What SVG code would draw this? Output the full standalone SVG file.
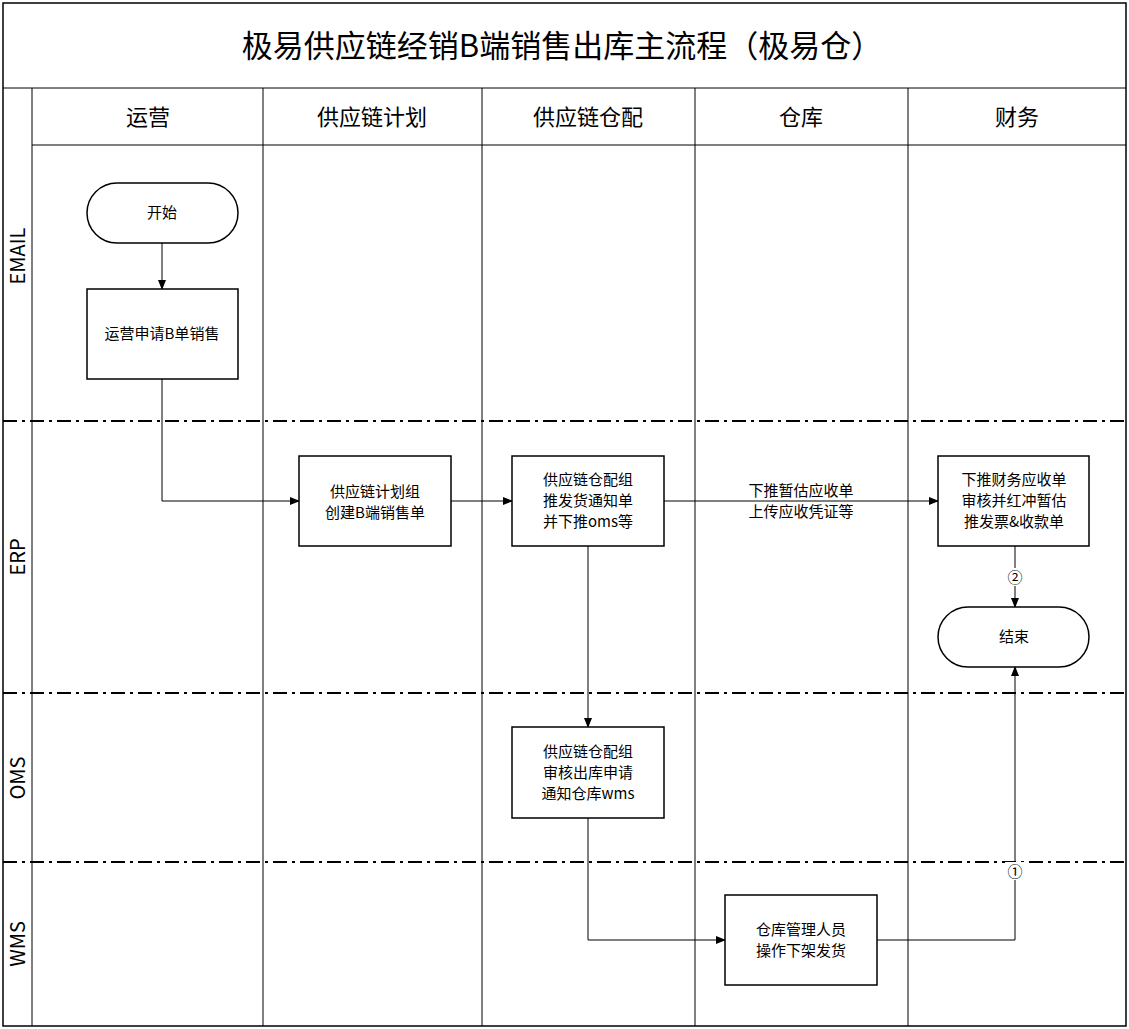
<svg xmlns="http://www.w3.org/2000/svg" width="1129" height="1029" viewBox="0 0 1129 1029">
<defs>
<style>
text{font-family:"Noto Sans CJK SC","Liberation Sans",sans-serif;fill:#000}
.n{fill:#fff;stroke:#000;stroke-width:1.5}
.t{font-size:15px;text-anchor:middle}
.h{font-size:22px;text-anchor:middle}
.l{font-size:20px;text-anchor:middle}
.c{fill:none;stroke:#000;stroke-width:1;marker-end:url(#a)}
.g{stroke:#000;stroke-width:1}
.d{stroke:#000;stroke-width:2;stroke-dasharray:14,5,3,5}
</style>
<marker id="a" markerWidth="10" markerHeight="10" refX="9" refY="5" orient="auto" markerUnits="userSpaceOnUse"><path d="M0,1 L10,5 L0,9 z" fill="#000"/></marker>
</defs>
<rect width="1129" height="1029" fill="#fff"/>
<g id="frame">
<rect x="3" y="3" width="1123" height="1023" fill="none" stroke="#000" stroke-width="1.5"/>
<line class="g" x1="3" y1="88" x2="1126" y2="88"/>
<line class="g" x1="32" y1="145" x2="1126" y2="145"/>
<line class="g" x1="32" y1="88" x2="32" y2="1026"/>
<line class="g" x1="263" y1="88" x2="263" y2="1026"/>
<line class="g" x1="482" y1="88" x2="482" y2="1026"/>
<line class="g" x1="695" y1="88" x2="695" y2="1026"/>
<line class="g" x1="908" y1="88" x2="908" y2="1026"/>
<line class="d" x1="3" y1="421" x2="1126" y2="421"/>
<line class="d" x1="3" y1="693" x2="1126" y2="693"/>
<line class="d" x1="3" y1="862" x2="1126" y2="862"/>
<text x="562" y="57" font-size="31" text-anchor="middle">极易供应链经销B端销售出库主流程（极易仓）</text>
<text class="h" x="148" y="125">运营</text>
<text class="h" x="372" y="125">供应链计划</text>
<text class="h" x="588" y="125">供应链仓配</text>
<text class="h" x="801" y="125">仓库</text>
<text class="h" x="1017" y="125">财务</text>
<text class="l" transform="translate(25,256) rotate(-90)">EMAIL</text>
<text class="l" transform="translate(25,557) rotate(-90)">ERP</text>
<text class="l" transform="translate(25,778) rotate(-90)">OMS</text>
<text class="l" transform="translate(25,944) rotate(-90)">WMS</text>
</g>
<g id="connectors">
<path class="c" d="M162,243 V289"/>
<path class="c" d="M162,379 V501 H299"/>
<path class="c" d="M451,501 H512"/>
<path class="c" d="M664,501 H938"/>
<path class="c" d="M588,546 V727"/>
<path class="c" d="M588,818 V940 H725"/>
<path class="c" d="M877,940 H1015 V667"/>
<path class="c" d="M1015,546 V607"/>
<text class="t" x="801" y="496">下推暂估应收单</text>
<text class="t" x="801" y="517">上传应收凭证等</text>
<rect x="1005" y="862" width="20" height="18" fill="#fff"/>
<text class="t" x="1015" y="877">①</text>
<rect x="1005" y="568" width="20" height="18" fill="#fff"/>
<text class="t" x="1015" y="583">②</text>
</g>
<g id="start"><rect class="n" x="87" y="183" width="151" height="60" rx="30"/><text class="t" x="162" y="218">开始</text></g>
<g id="apply"><rect class="n" x="87" y="289" width="151" height="90"/><text class="t" x="162" y="339">运营申请B单销售</text></g>
<g id="plan"><rect class="n" x="299" y="456" width="152" height="90"/><text class="t" x="375" y="497">供应链计划组</text><text class="t" x="375" y="518">创建B端销售单</text></g>
<g id="dist"><rect class="n" x="512" y="456" width="152" height="90"/><text class="t" x="588" y="485">供应链仓配组</text><text class="t" x="588" y="506">推发货通知单</text><text class="t" x="588" y="527">并下推oms等</text></g>
<g id="fin"><rect class="n" x="938" y="456" width="151" height="90"/><text class="t" x="1014" y="485">下推财务应收单</text><text class="t" x="1014" y="506">审核并红冲暂估</text><text class="t" x="1014" y="527">推发票&amp;收款单</text></g>
<g id="end"><rect class="n" x="938" y="607" width="151" height="60" rx="30"/><text class="t" x="1014" y="642">结束</text></g>
<g id="oms"><rect class="n" x="512" y="727" width="152" height="91"/><text class="t" x="588" y="757">供应链仓配组</text><text class="t" x="588" y="778">审核出库申请</text><text class="t" x="588" y="799">通知仓库wms</text></g>
<g id="wms"><rect class="n" x="725" y="895" width="152" height="90"/><text class="t" x="801" y="935">仓库管理人员</text><text class="t" x="801" y="956">操作下架发货</text></g>
</svg>
